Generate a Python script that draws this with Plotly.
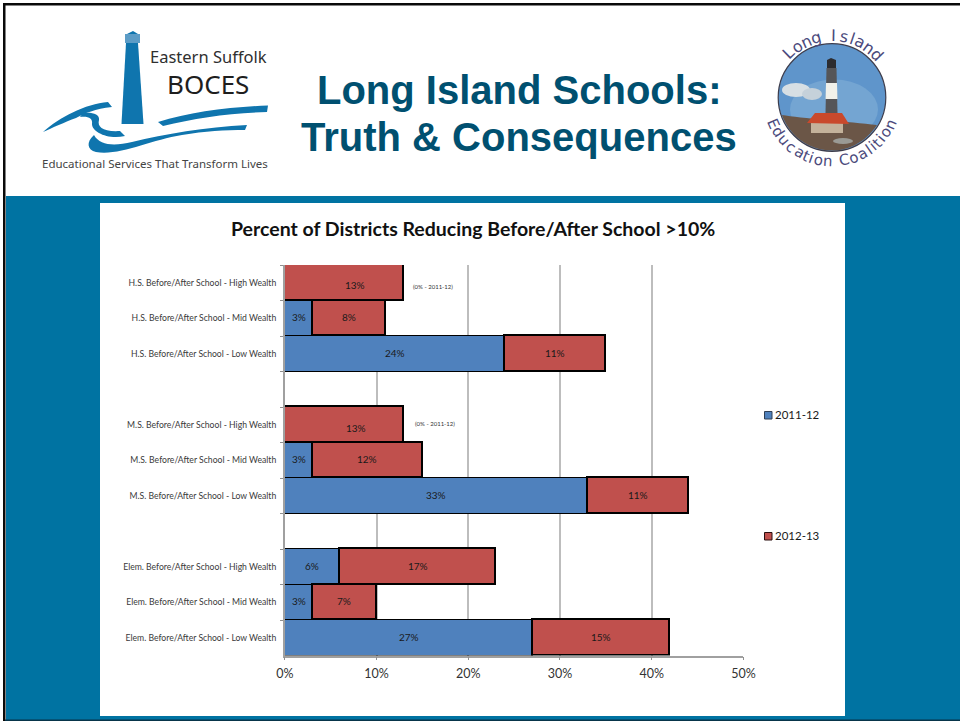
import math
import plotly.graph_objects as go

# ---------- data ----------
categories = [
    "H.S. Before/After School - High Wealth",
    "H.S. Before/After School - Mid Wealth",
    "H.S. Before/After School - Low Wealth",
    " ",
    "M.S. Before/After School - High Wealth",
    "M.S. Before/After School - Mid Wealth",
    "M.S. Before/After School - Low Wealth",
    "  ",
    "Elem. Before/After School - High Wealth",
    "Elem. Before/After School - Mid Wealth",
    "Elem. Before/After School - Low Wealth",
]
values_2011 = [None, 3, 24, None, None, 3, 33, None, 6, 3, 27]
values_2012 = [13, 8, 11, None, 13, 12, 11, None, 17, 7, 15]
series_names = ["2011-12", "2012-13"]
x_ticks = [0, 10, 20, 30, 40, 50]
x_tick_labels = ["0%", "10%", "20%", "30%", "40%", "50%"]
chart_title = "Percent of Districts Reducing Before/After School >10%"
slide_title = ["Long Island Schools:", "Truth &amp; Consequences"]
note = "(0% - 2011-12)"

TEAL = "#0073a2"
W, H = 960, 721
px = lambda v: v / W
py = lambda v: 1 - v / H


def path(*cmds):
    out = []
    for c in cmds:
        if isinstance(c, str):
            out.append(c)
        else:
            out.append(f"{px(c[0]):.5f},{py(c[1]):.5f}")
    return " ".join(out)


shapes = []


def add_path(p, fill, line=None, width=0):
    shapes.append(dict(type="path", xref="paper", yref="paper", path=p, fillcolor=fill,
                       line=dict(color=line or fill, width=width), layer="below"))


def rect(x0, y0, x1, y1, fill, line=None, width=0, layer="below"):
    shapes.append(dict(type="rect", xref="paper", yref="paper", x0=px(x0), x1=px(x1),
                       y0=py(y0), y1=py(y1), fillcolor=fill,
                       line=dict(color=line or fill, width=width), layer=layer))


def ellipse(cx, cy, rx, ry, fill, line=None, width=0):
    shapes.append(dict(type="circle", xref="paper", yref="paper", x0=px(cx - rx), x1=px(cx + rx),
                       y0=py(cy + ry), y1=py(cy - ry), fillcolor=fill,
                       line=dict(color=line or fill, width=width), layer="below"))


# slide frame and panels
rect(6, 196, 960, 720, TEAL)
rect(3, 3, 960, 5.5, "#0a0a0a")
rect(3, 3, 5.5, 721, "#0a0a0a")
rect(5, 719.5, 960, 721, "#08354a")
rect(100, 203, 845, 716, "#ffffff")

# ---------- left logo ----------
LB = "#0f75ae"
add_path(path("M", (126, 43), "L", (138, 43), "L", (143.5, 124), "L", (121.5, 124), "Z"), LB)
rect(125, 34, 140, 43, "#5c9cc6")
add_path(path("M", (127, 34), "L", (133, 31), "L", (138, 34), "Z"), LB)
add_path(path("M", (158, 122), "C", (190, 112), (230, 107), (268, 105.5), "L", (267, 112),
              "C", (230, 113), (195, 118), (163, 126), "Z"), LB)
add_path(path("M", (43, 132), "C", (60, 117), (85, 104), (108, 102), "L", (112, 107),
              "C", (95, 109), (85, 113), (76, 118), "C", (65, 122), (52, 128), (43, 132), "Z"), LB)
add_path(path("M", (83, 113), "C", (92, 112), (100, 114), (99, 120), "C", (97, 127), (103, 132), (120, 131),
              "L", (125, 136), "C", (108, 140), (92, 132), (92, 124), "C", (93, 118), (88, 116), (80, 117), "Z"), LB)
add_path(path("M", (247, 125), "C", (205, 127), (165, 134), (132, 142), "C", (115, 146), (100, 146), (94, 135),
              "C", (86, 142), (87, 150), (96, 152), "C", (120, 156), (150, 140), (182, 135),
              "C", (205, 131), (225, 130), (245, 130), "Z"), LB)

# ---------- right logo ----------
CX, CY, R = 832, 97.5, 53
ellipse(CX, CY, R + 0.8, R + 0.8, "#5f95cb", "#3c3c4c", 1.2)
ellipse(CX + 2, CY + 12, 44, 30, "#74a5d2")
ellipse(796, 90, 14, 7, "#d7dfe4")
ellipse(812, 94, 10, 6, "#c5d1da")
add_path(path("M", (782, 115), "C", (800, 118), (850, 122), (877, 125),
              "C", (865, 143), (848, 150.5), (832, 150.5),
              "C", (808, 150.5), (789, 135), (782, 115), "Z"), "#6b5647")
ellipse(843, 141, 10, 3, "#9a9a95")
rect(811, 122, 843, 133, "#c4b29b")
add_path(path("M", (825.5, 113), "L", (826.5, 68), "L", (836.5, 68), "L", (837.5, 113), "Z"), "#555558")
add_path(path("M", (826, 83), "L", (837, 83), "L", (837.5, 99), "L", (825.5, 99), "Z"), "#f1f1ea")
add_path(path("M", (827, 68), "L", (827, 60), "L", (831, 58), "L", (836, 60), "L", (836, 68), "Z"), "#2c2c30")
add_path(path("M", (807, 123), "L", (815, 113), "L", (842, 113), "L", (849, 124), "Z"), "#c9492c")

annotations = []


def text(x, y, s, size, color, family="Lato", bold=False, angle=0, anchor="center"):
    annotations.append(dict(xref="paper", yref="paper", x=px(x), y=py(y), text=f"<b>{s}</b>" if bold else s,
                            showarrow=False, xanchor=anchor, yanchor="middle", textangle=angle,
                            font=dict(size=size, color=color, family=family)))


def advance(ch):
    if ch in "ilt ":
        return 0.42
    if ch in "m":
        return 1.0
    return 0.72


def arc_text(s, a0, a1, r, top, size):
    widths = [advance(c) for c in s]
    total = sum(widths) - (widths[0] + widths[-1]) / 2
    pos = 0.0
    for i, ch in enumerate(s):
        if i:
            pos += (widths[i - 1] + widths[i]) / 2
        if ch == " ":
            continue
        a = a0 + (a1 - a0) * pos / total
        rad = math.radians(a)
        if top:
            x, y = CX + r * math.sin(rad), CY - r * math.cos(rad)
            rot = a
        else:
            x, y = CX + r * math.sin(rad), CY + r * math.cos(rad)
            rot = -a
        text(x, y, ch, size, "#4b4a7c", family="DejaVu Sans", angle=rot)


arc_text("Long Island", -44, 46, 62, True, 16)
arc_text("Education Coalition", -66, 66, 64, False, 15)

text(208, 57, "Eastern Suffolk", 16.5, "#2f2f2f", family="Noto Sans")
text(208, 84.5, "BOCES", 26, "#1e1e1e", family="Noto Sans")
text(155, 163, "Educational Services That Transform Lives", 11.5, "#444444", family="Noto Sans")

text(519, 90, slide_title[0], 40, "#005070", family="Liberation Sans", bold=True)
text(519, 137, slide_title[1], 40, "#005070", family="Liberation Sans", bold=True)
text(472.5, 228, chart_title, 19.5, "#111111", bold=True)

# data labels, nudged like the original's hand-placed ones
label_2012_shift = {0: (11, -2), 4: (12, -3)}
for i, cat in enumerate(categories):
    v1, v2 = values_2011[i], values_2012[i]
    base = v1 or 0
    if v1:
        annotations.append(dict(xref="x", yref="y", x=v1 / 2, y=cat, text=f"{v1}%", showarrow=False, yshift=1,
                                font=dict(size=10, color="#1a1a1a", family="Lato")))
    if v2:
        dx, dy = label_2012_shift.get(i, (0, 1))
        annotations.append(dict(xref="x", yref="y", x=base + v2 / 2, y=cat, text=f"{v2}%", showarrow=False,
                                xshift=dx, yshift=dy, font=dict(size=10, color="#1a1a1a", family="Lato")))

annotations.append(dict(xref="paper", yref="paper", x=px(433), y=py(286), text=note, showarrow=False,
                        font=dict(size=6, color="#333333", family="Lato")))
annotations.append(dict(xref="paper", yref="paper", x=px(435), y=py(423), text=note, showarrow=False,
                        font=dict(size=6, color="#333333", family="Lato")))

# legend
BLUE, RED = "#4f81bd", "#c0504d"
rect(764.5, 411.5, 772, 419, BLUE, "#2f3f55", 1, layer="above")
rect(764.5, 532.5, 772, 540, RED, "#2a0f0f", 1, layer="above")
text(773, 414.5, series_names[0], 11.5, "#1a1a1a", anchor="left")
text(773, 535.5, series_names[1], 11.5, "#1a1a1a", anchor="left")

fig = go.Figure()
fig.add_bar(y=categories, x=values_2011, name=series_names[0], orientation="h",
            marker=dict(color=BLUE, line=dict(color="#000000", width=1.5)))
fig.add_bar(y=categories, x=values_2012, name=series_names[1], orientation="h",
            marker=dict(color=RED, line=dict(color="#000000", width=1.6)))

fig.update_layout(
    template="none",
    width=W, height=H, margin=dict(l=0, r=0, t=0, b=0, pad=0), autosize=False,
    paper_bgcolor="#ffffff", plot_bgcolor="rgba(0,0,0,0)",
    barmode="stack", bargap=0, showlegend=False, shapes=shapes, annotations=annotations,
    xaxis=dict(domain=[px(284.8), px(743.4)], range=[0, 50], tickvals=x_ticks, ticktext=x_tick_labels,
               automargin=False,
               showgrid=True, gridcolor="#bdbdbd", gridwidth=1.6, zeroline=False,
               showline=True, linecolor="#a0a0a0", linewidth=1.6, ticks="outside", ticklen=3, tickwidth=1.2,
               tickcolor="#909090", tickfont=dict(size=12.5, color="#333333", family="Lato"), anchor="y",
               ticklabelstandoff=3),
    yaxis=dict(domain=[py(655.5), py(265)], type="category", categoryorder="array", categoryarray=categories,
               automargin=False,
               autorange="reversed", tickson="boundaries", ticks="outside", ticklen=3, tickwidth=1.2,
               tickcolor="#909090",
               showgrid=False, showline=True, linecolor="#a0a0a0", linewidth=1.6, zeroline=False,
               tickfont=dict(size=8.65, color="#3a3a3a", family="Lato"), anchor="x", ticklabelstandoff=5),
)

fig.write_html("out.html", config={"displayModeBar": False},
               post_script="document.body.style.margin='0';document.body.style.overflow='hidden';")
